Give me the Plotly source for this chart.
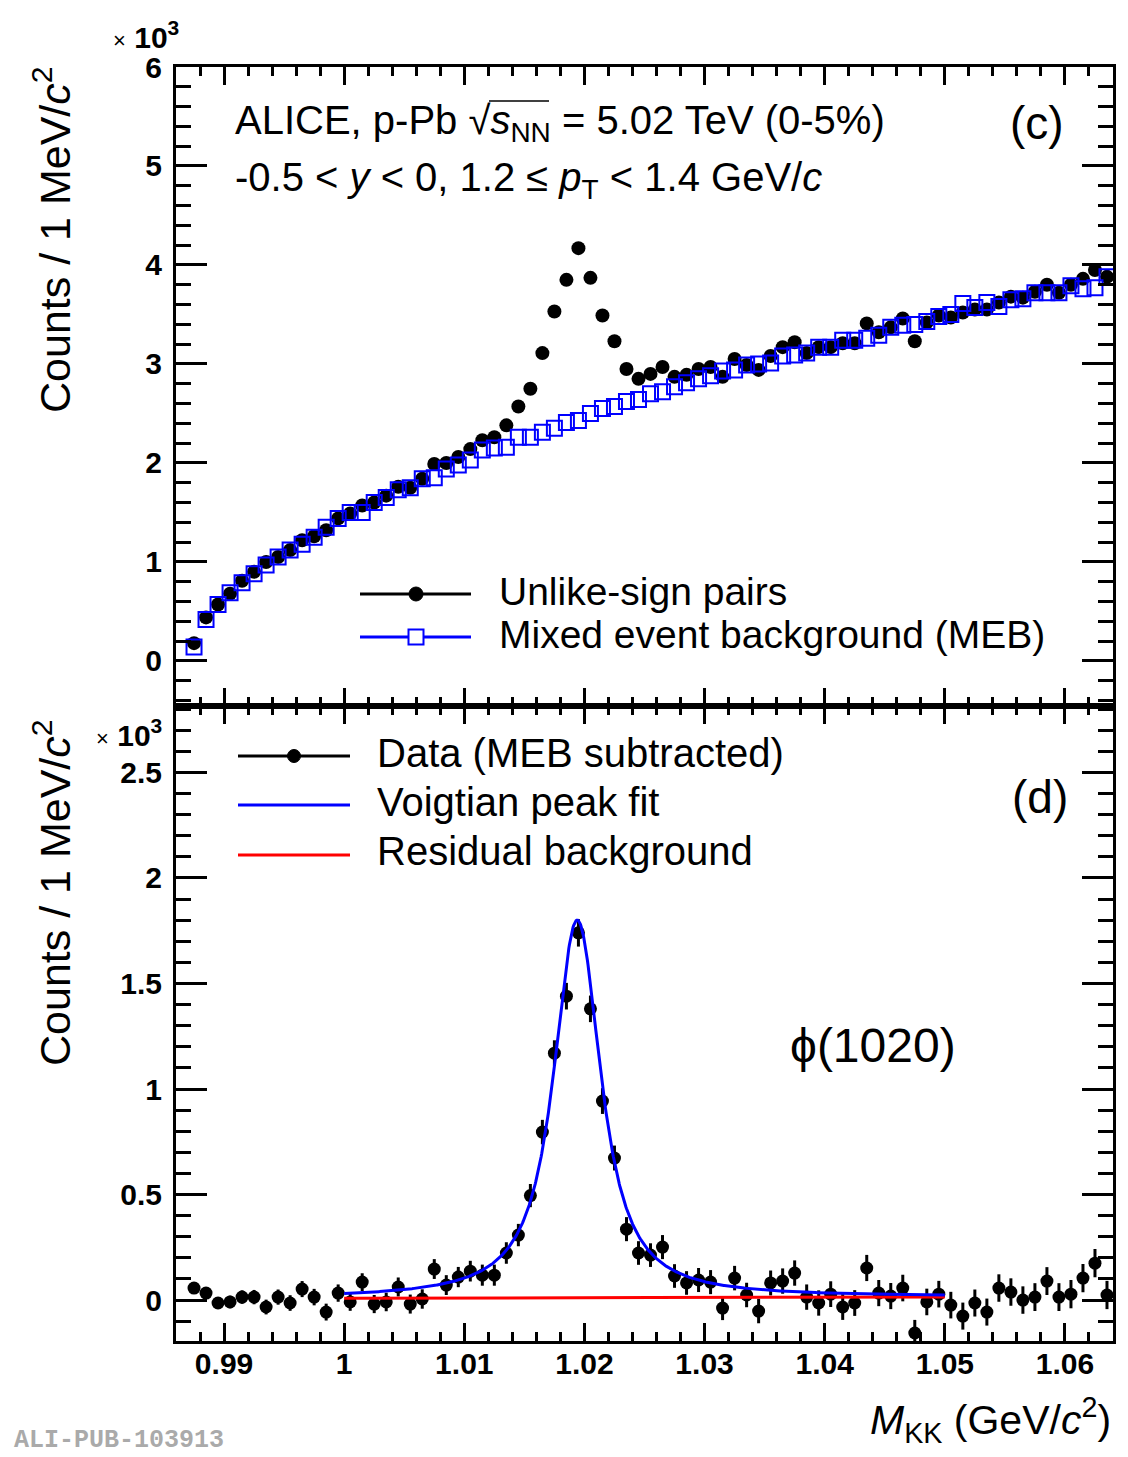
import numpy as np
import plotly.graph_objects as go

# ---------------- data (values in units of 10^3 counts) ----------------
mass_centers = [round(0.9875 + 0.001 * i, 4) for i in range(77)]

unlike_sign = [
    0.18, 0.44, 0.57, 0.68, 0.81, 0.90, 1.00, 1.05, 1.12, 1.22,
    1.26, 1.32, 1.44, 1.49, 1.57, 1.60, 1.67, 1.76, 1.75, 1.84,
    1.99, 2.00, 2.06, 2.14, 2.23, 2.26, 2.38, 2.57, 2.75, 3.11,
    3.53, 3.85, 4.17, 3.87, 3.49, 3.23, 2.95, 2.85, 2.90, 2.97,
    2.87, 2.89, 2.95, 2.97, 2.87, 3.05, 2.99, 2.94, 3.08, 3.17,
    3.22, 3.11, 3.17, 3.17, 3.21, 3.21, 3.41, 3.32, 3.37, 3.46,
    3.23, 3.42, 3.49, 3.47, 3.52, 3.55, 3.55, 3.62, 3.68, 3.67,
    3.73, 3.80, 3.72, 3.80, 3.86, 3.95, 3.88]

mixed_event_bkg = [
    0.14, 0.42, 0.57, 0.69, 0.79, 0.88, 0.97, 1.05, 1.12, 1.18,
    1.25, 1.35, 1.44, 1.50, 1.50, 1.60, 1.65, 1.73, 1.75, 1.84,
    1.85, 1.94, 1.98, 2.03, 2.13, 2.15, 2.16, 2.26, 2.26, 2.31,
    2.35, 2.41, 2.43, 2.50, 2.55, 2.57, 2.62, 2.64, 2.70, 2.72,
    2.77, 2.81, 2.85, 2.88, 2.93, 2.94, 2.99, 3.00, 3.01, 3.08,
    3.09, 3.11, 3.17, 3.17, 3.24, 3.24, 3.26, 3.29, 3.37, 3.39,
    3.40, 3.43, 3.48, 3.50, 3.61, 3.57, 3.62, 3.58, 3.65, 3.66,
    3.72, 3.72, 3.72, 3.79, 3.76, 3.77, 3.88]

subtracted = [
    0.057, 0.033, -0.014, -0.009, 0.014, 0.014, -0.033, 0.014, -0.014, 0.052,
    0.014, -0.057, 0.033, -0.009, 0.085, -0.019, -0.009, 0.062, -0.019, 0.005,
    0.147, 0.071, 0.109, 0.137, 0.118, 0.118, 0.223, 0.308, 0.495, 0.796,
    1.170, 1.440, 1.740, 1.380, 0.943, 0.673, 0.336, 0.223, 0.213, 0.251,
    0.114, 0.081, 0.095, 0.085, -0.038, 0.104, 0.024, -0.052, 0.081, 0.090,
    0.128, 0.014, -0.014, 0.028, -0.033, -0.014, 0.152, 0.033, 0.019, 0.057,
    -0.156, -0.009, 0.028, -0.024, -0.076, -0.014, -0.057, 0.057, 0.038, 0.000,
    0.014, 0.090, 0.014, 0.028, 0.104, 0.175, 0.024]

subtracted_err = [
    0.020, 0.025, 0.028, 0.030, 0.032, 0.034, 0.035, 0.036, 0.037, 0.038,
    0.039, 0.040, 0.041, 0.042, 0.042, 0.043, 0.044, 0.045, 0.045, 0.046,
    0.047, 0.047, 0.048, 0.049, 0.050, 0.050, 0.051, 0.053, 0.055, 0.058,
    0.061, 0.063, 0.065, 0.063, 0.061, 0.059, 0.057, 0.056, 0.056, 0.057,
    0.056, 0.056, 0.057, 0.057, 0.057, 0.058, 0.058, 0.058, 0.059, 0.060,
    0.060, 0.060, 0.060, 0.061, 0.061, 0.061, 0.062, 0.062, 0.062, 0.063,
    0.062, 0.063, 0.063, 0.063, 0.064, 0.064, 0.064, 0.065, 0.065, 0.065,
    0.066, 0.066, 0.066, 0.067, 0.067, 0.067, 0.067]

# Voigtian fit parameters (GeV, 10^3 counts)
fit_range = [1.000, 1.050]
fit_mass = 1.0194
fit_gamma = 0.00426
fit_sigma = 0.0006
fit_peak_height = 1.79
bkg_intercept = 0.008   # residual background at fit_range[0]
bkg_slope = 0.14        # per GeV

x_ticks = [0.99, 1.00, 1.01, 1.02, 1.03, 1.04, 1.05, 1.06]
x_tick_text = ["0.99", "1", "1.01", "1.02", "1.03", "1.04", "1.05", "1.06"]
y_top_ticks = [0, 1, 2, 3, 4, 5, 6]
y_bot_ticks = [0, 0.5, 1, 1.5, 2, 2.5]
y_bot_tick_text = ["0", "0.5", "1", "1.5", "2", "2.5"]

# ---------------- fit curves ----------------
xf = np.linspace(fit_range[0], fit_range[1], 1001)
step = 0.00002
grid = np.arange(0.94, 1.10, step)
lor = (fit_gamma / (2 * np.pi)) / ((grid - fit_mass) ** 2 + (fit_gamma / 2) ** 2)
kx = np.arange(-6 * fit_sigma, 6 * fit_sigma + step, step)
gau = np.exp(-0.5 * (kx / fit_sigma) ** 2)
gau /= gau.sum()
voigt = np.convolve(lor, gau, mode="same")
voigt_f = np.interp(xf, grid, voigt)
voigt_f = voigt_f / np.interp(fit_mass, grid, voigt)
bkg_f = bkg_intercept + bkg_slope * (xf - fit_range[0])
total_f = fit_peak_height * voigt_f + bkg_f

# ---------------- geometry ----------------
W, H = 1128, 1457
L, R, T, B = 176, 1113, 67, 1341
split_px = 706
split = (B - split_px) / (B - T)


def px(xp):
    return (xp - L) / (R - L)


def py(yp):
    return (B - yp) / (B - T)


FONT = "Liberation Sans, Arial, Helvetica, sans-serif"

fig = go.Figure()

# top panel
fig.add_trace(go.Scatter(
    x=mass_centers, y=unlike_sign, mode="markers", xaxis="x2", yaxis="y2",
    marker=dict(symbol="circle", size=14, color="black"), showlegend=False))
fig.add_trace(go.Scatter(
    x=mass_centers, y=mixed_event_bkg, mode="markers", xaxis="x2", yaxis="y2",
    marker=dict(symbol="square-open", size=15, color="#0000ff", line=dict(width=2)),
    showlegend=False))

# bottom panel
fig.add_trace(go.Scatter(
    x=mass_centers, y=subtracted, mode="markers", xaxis="x", yaxis="y",
    marker=dict(symbol="circle", size=13, color="black"),
    error_y=dict(type="data", array=subtracted_err, color="black", thickness=3, width=0),
    showlegend=False))
fig.add_trace(go.Scatter(
    x=xf, y=bkg_f, mode="lines", xaxis="x", yaxis="y",
    line=dict(color="#ff0000", width=3), showlegend=False))
fig.add_trace(go.Scatter(
    x=xf, y=total_f, mode="lines", xaxis="x", yaxis="y",
    line=dict(color="#0000ff", width=3), showlegend=False))

xr = [0.9860, 1.0640]
common_x = dict(
    range=xr, showline=True, linecolor="black", linewidth=3, mirror="allticks",
    ticks="inside", ticklen=18, tickwidth=3, tickcolor="black",
    tickvals=x_ticks, ticktext=x_tick_text,
    minor=dict(dtick=0.002, tick0=0.99, ticks="inside", ticklen=9, tickwidth=3, tickcolor="black"),
    showgrid=False, zeroline=False,
)
common_y = dict(
    showline=True, linecolor="black", linewidth=3, mirror="allticks",
    ticks="inside", ticklen=31, tickwidth=3, tickcolor="black",
    showgrid=False, zeroline=False,
    tickfont=dict(family=FONT, size=30, color="black", weight="bold"),
    ticklabelstandoff=5,
)

fig.update_layout(
    width=W, height=H,
    margin=dict(l=L, r=W - R, t=T, b=H - B),
    paper_bgcolor="white", plot_bgcolor="white",
    xaxis=dict(**common_x, anchor="y", domain=[0, 1],
               tickfont=dict(family=FONT, size=30, color="black", weight="bold"),
               ticklabelstandoff=-6),
    xaxis2=dict(**common_x, anchor="y2", domain=[0, 1], matches="x", showticklabels=False),
    yaxis=dict(**common_y, anchor="x", domain=[0, split], range=[-0.194, 2.815],
               tickvals=y_bot_ticks, ticktext=y_bot_tick_text,
               minor=dict(dtick=0.1, tick0=0, ticks="inside", ticklen=15, tickwidth=3, tickcolor="black")),
    yaxis2=dict(**common_y, anchor="x2", domain=[split, 1], range=[-0.455, 6.0],
                tickvals=y_top_ticks,
                minor=dict(dtick=0.2, tick0=0, ticks="inside", ticklen=15, tickwidth=3, tickcolor="black")),
    showlegend=False,
)

ann = []


def text(xp, yp, s, size, xanchor="left", yanchor="middle", angle=0, color="black", family=FONT, weight="normal"):
    ann.append(dict(xref="paper", yref="paper", x=px(xp), y=py(yp), text=s, showarrow=False,
                    xanchor=xanchor, yanchor=yanchor, textangle=angle,
                    font=dict(family=family, size=size, color=color, weight=weight)))


# header texts
text(233, 123, "ALICE, p-Pb \u221a<i>s</i><sub>NN</sub> = 5.02 TeV (0-5%)", 40)
text(233, 180, "-0.5 < <i>y</i> < 0, 1.2 \u2264 <i>p</i><sub>T</sub> < 1.4 GeV/<i>c</i>", 40)
text(1037, 123, "(c)", 46, xanchor="center")
text(1040, 797, "(d)", 46, xanchor="center")
text(873, 1045, "\u03d5(1020)", 48, xanchor="center")

# legends (text)
text(497, 591, "Unlike-sign pairs", 39)
text(497, 634, "Mixed event background (MEB)", 39)
text(375, 753, "Data (MEB subtracted)", 40)
text(375, 802, "Voigtian peak fit", 40)
text(375, 851, "Residual background", 40)

# axis titles
text(52, 240, "Counts / 1 MeV/<i>c</i><sup>2</sup>", 43, xanchor="center", angle=-90)
text(52, 893, "Counts / 1 MeV/<i>c</i><sup>2</sup>", 43, xanchor="center", angle=-90)
text(1113, 1420, "<i>M</i><sub>KK</sub> (GeV/<i>c</i><sup>2</sup>)", 41, xanchor="right")

# exponent labels
exp_label = "<span style='font-size:22px'>\u00d7</span> <b>10<sup>3</sup></b>"
text(111, 35, exp_label, 30)
text(94, 733, exp_label, 30)

# watermark
text(12, 1440, "ALI-PUB-103913", 25, color="#aaaaaa", family="Liberation Mono, Courier New, monospace", weight="bold")

fig.update_layout(annotations=ann)

# legend sample glyphs
shapes = []


def hline(x0, x1, y, color):
    shapes.append(dict(type="line", xref="paper", yref="paper", x0=px(x0), x1=px(x1), y0=py(y), y1=py(y),
                       line=dict(color=color, width=3)))


def circ(xc, yc, d):
    shapes.append(dict(type="circle", xref="paper", yref="paper",
                       x0=px(xc - d / 2), x1=px(xc + d / 2), y0=py(yc + d / 2), y1=py(yc - d / 2),
                       fillcolor="black", line=dict(color="black", width=1)))


def sq(xc, yc, d):
    shapes.append(dict(type="rect", xref="paper", yref="paper",
                       x0=px(xc - d / 2), x1=px(xc + d / 2), y0=py(yc + d / 2), y1=py(yc - d / 2),
                       fillcolor="white", line=dict(color="#0000ff", width=2)))


hline(360, 471, 594, "black")
circ(416, 594, 14)
hline(360, 471, 637, "#0000ff")
sq(416, 637, 15)
hline(238, 350, 756, "black")
circ(294, 756, 13)
hline(238, 350, 805, "#0000ff")
hline(238, 350, 855, "#ff0000")

# overline of the square root in the header
shapes.append(dict(type="line", xref="paper", yref="paper", x0=px(489), x1=px(549), y0=py(101), y1=py(101),
                   line=dict(color="black", width=1.5)))

fig.update_layout(shapes=shapes)

fig.write_html("out.html", config={"displayModeBar": False},
               post_script="document.body.style.margin='0px';document.body.style.padding='0px';")
